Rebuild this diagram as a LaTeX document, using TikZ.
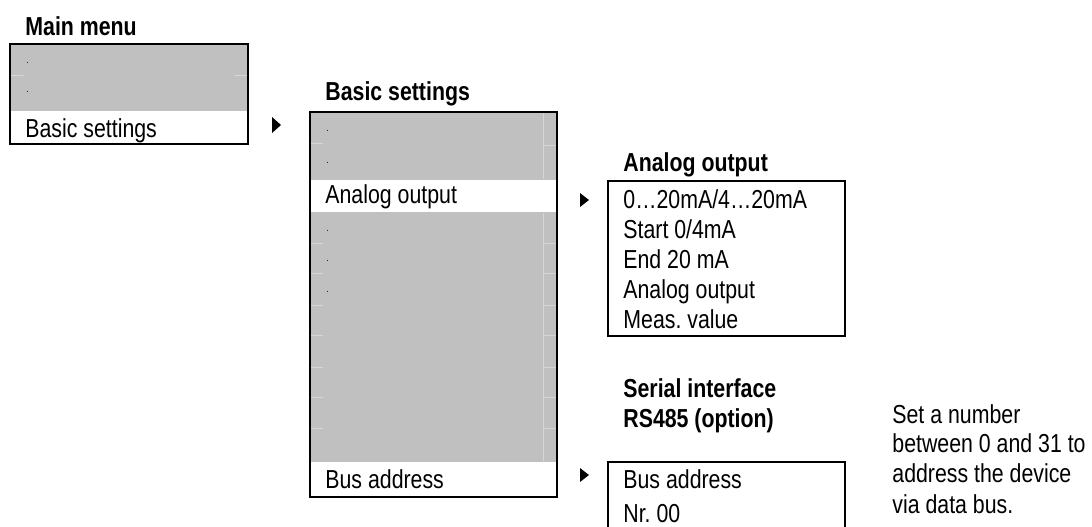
\documentclass[tikz,border=0pt]{standalone}
\usepackage{fontspec}
\setmainfont{Liberation Sans}[FakeStretch=0.82]
\frenchspacing
\definecolor{menugray}{RGB}{192,192,192}
\definecolor{gridgray}{RGB}{214,214,214}
\tikzset{
  txt/.style={anchor=base west, inner sep=0pt, font=\fontsize{13}{15}\selectfont},
  head/.style={txt, font=\fontsize{13}{15}\selectfont\bfseries},
  dot/.style={anchor=base west, inner sep=0pt, font=\fontsize{5}{6}\selectfont},
  frame/.style={draw=black, line width=1pt},
  grid/.style={draw=gridgray, line width=0.5pt},
  pointer/.style={fill=black}
}
\begin{document}
\begin{tikzpicture}[x=0.5pt,y=-0.5pt]
				\useasboundingbox (0,0) rectangle (1092,526);
				
				% main menu
				\node[head] (mainT) at (25,35) {Main menu};
				\fill[menugray] (10,44) rectangle (248,111);
				\draw[grid] (11,75) -- (24,75);
				\draw[grid] (235,75) -- (247,75);
				\draw[frame] (10,44) rectangle (248,144);
				\node[dot] (mainA) at (26,63) {.};
				\node[dot] (mainB) at (26,92) {.};
				\node[txt] (mainC) at (25,137) {Basic settings};
				\fill[pointer] (272,117) -- (281,125) -- (272,133) -- cycle;
				
				% basic settings
				\node[head] (basicT) at (325,100) {Basic settings};
				\fill[menugray] (310,112) rectangle (557,180);
				\fill[menugray] (310,212) rectangle (557,462);
				\draw[grid] (543,113) -- (543,179);
				\draw[grid] (543,213) -- (543,461);
				\draw[grid] (311,143) -- (323,143);
				\draw[grid] (543,145) -- (556,145);
				\draw[grid] (311,243) -- (323,243);
				\draw[grid] (543,243) -- (556,243);
				\draw[grid] (311,273) -- (323,273);
				\draw[grid] (543,273) -- (556,273);
				\draw[grid] (311,305) -- (323,305);
				\draw[grid] (543,305) -- (556,305);
				\draw[grid] (311,335) -- (323,335);
				\draw[grid] (543,335) -- (556,335);
				\draw[grid] (311,367) -- (323,367);
				\draw[grid] (543,367) -- (556,367);
				\draw[grid] (311,397) -- (323,397);
				\draw[grid] (543,397) -- (556,397);
				\draw[grid] (311,428) -- (323,428);
				\draw[grid] (543,428) -- (556,428);
				\draw[frame] (310,112) rectangle (557,497);
				\node[dot] (basicA) at (326,131) {.};
				\node[dot] (basicB) at (326,163) {.};
				\node[txt] (basicC) at (325,203) {Analog output};
				\node[dot] (basicD) at (326,231) {.};
				\node[dot] (basicE) at (326,261) {.};
				\node[dot] (basicF) at (326,292) {.};
				\node[txt] (basicG) at (325,488) {Bus address};
				\fill[pointer] (580,193) -- (589,200) -- (580,207) -- cycle;
				\fill[pointer] (580,468) -- (589,475) -- (580,482) -- cycle;
				
				% analog output
				\node[head] (anaT) at (623,171) {Analog output};
				\draw[frame] (608,181) rectangle (845,336);
				\node[txt] (anaA) at (623,208) {0…20mA/4…20mA};
				\node[txt] (anaB) at (623,238) {Start 0/4mA};
				\node[txt] (anaC) at (623,268) {End 20 mA};
				\node[txt] (anaD) at (623,298) {Analog output};
				\node[txt] (anaE) at (623,328) {Meas. value};
				
				% serial interface
				\node[head] (serT) at (623,397) {Serial interface};
				\node[head] (serU) at (623,427) {RS485 (option)};
				\draw[frame] (608,530) -- (608,462) -- (845,462) -- (845,530);
				\node[txt] (serA) at (623,488) {Bus address};
				\node[txt] (serB) at (623,522) {Nr. 00};
				
				\node[txt] (noteA) at (892,423) {Set a number};
				\node[txt] (noteB) at (892,452) {between 0 and 31 to};
				\node[txt] (noteC) at (892,482) {address the device};
				\node[txt] (noteD) at (892,513) {via data bus.};
\end{tikzpicture}
\end{document}
